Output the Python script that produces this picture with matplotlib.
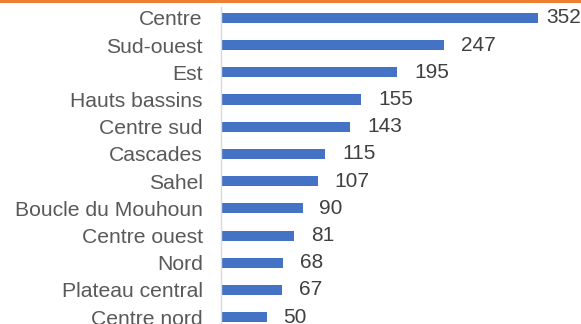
import matplotlib.pyplot as plt
from matplotlib.patches import Rectangle

regions = ["Centre", "Sud-ouest", "Est", "Hauts bassins", "Centre sud", "Cascades",
           "Sahel", "Boucle du Mouhoun", "Centre ouest", "Nord", "Plateau central",
           "Centre nord"]
counts = [352, 247, 195, 155, 143, 115, 107, 90, 81, 68, 67, 50]

plt.rcParams['font.family'] = ['Liberation Sans', 'DejaVu Sans']

W, H = 581, 324
fig = plt.figure(figsize=(W / 100, H / 100), dpi=100)
ax = fig.add_axes([221.5 / W, 0, 1 - 221.5 / W, 1 - 7 / H])

y = list(range(len(regions)))
ax.barh(y, counts, height=0.37, color='#4472C4')
labels = []
for yi, v in zip(y, counts):
    t = ax.annotate(str(v), (v, yi), xytext=(12.2, 0), textcoords='offset points',
                    va='center', ha='left', fontsize=15, color='#404040')
    labels.append(t)

ax.set_ylim(11.25, -0.4)
ax.set_xlim(0, (W - 221.5) / 0.9)
ax.set_yticks(y)
ax.set_yticklabels(regions, fontsize=15.2, color='#595959')
ax.tick_params(axis='y', length=0, pad=13.5)
ax.set_xticks([])
for s in ['top', 'right', 'bottom']:
    ax.spines[s].set_visible(False)
ax.spines['left'].set_color('#D9D9D9')
ax.spines['left'].set_linewidth(1)

# pull any value label that runs past the right edge back inside,
# but keep a small gap to its bar
fig.canvas.draw()
for t in labels:
    bb = t.get_window_extent()
    over = min(bb.x1 - (W - 1), 9)
    if over > 0:
        dx, dy = t.xyann
        t.xyann = (dx - over * 72 / fig.dpi, dy)

# orange rule along the top edge
fig.add_artist(Rectangle((0, 1 - 2.5 / H), 1, 2.5 / H, transform=fig.transFigure,
                         color='#ED7D31', lw=0))

fig.savefig('out.png', dpi=100)
